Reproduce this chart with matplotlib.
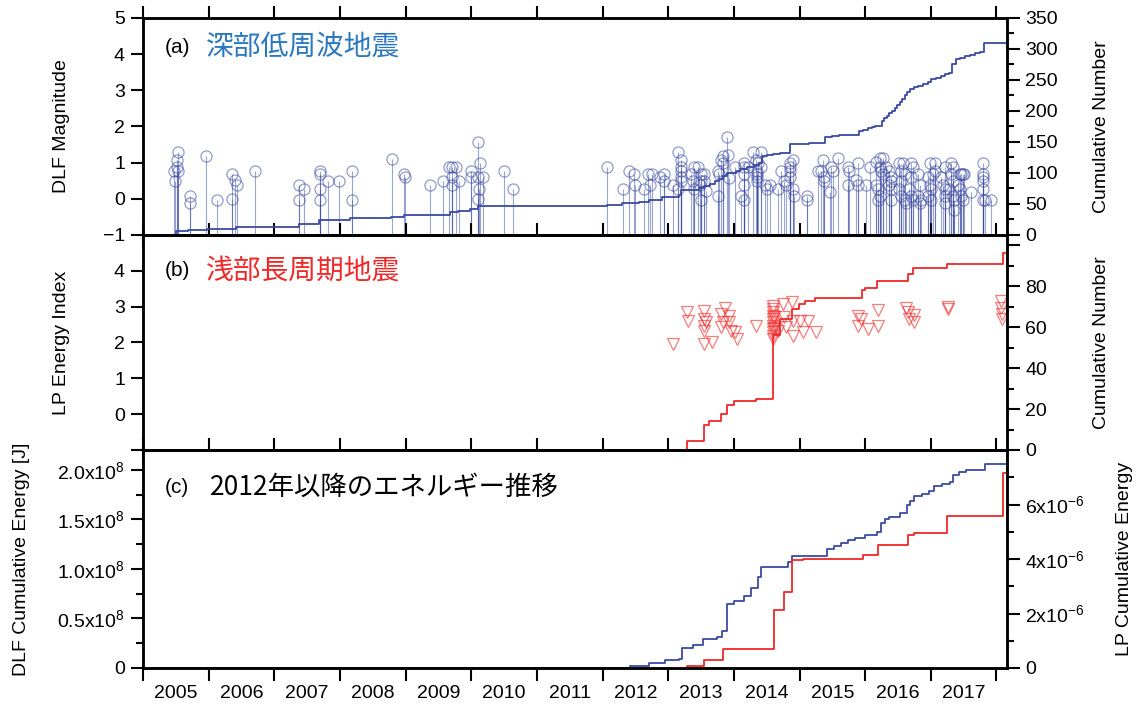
import numpy as np
import matplotlib
matplotlib.use("Agg")
import matplotlib.pyplot as plt

plt.rcParams['font.family'] = ['Liberation Sans', 'Noto Sans CJK JP', 'DejaVu Sans']
plt.rcParams['mathtext.default'] = 'regular'

# =========================
# DATA
# =========================
# deep low-frequency (DLF) events: decimal year, magnitude
dlf_year = [
    2005.53, 2005.52, 2005.52, 2005.47, 2005.53, 2005.49, 2005.71, 2005.71, 2005.96, 2006.13,
    2006.35, 2006.35, 2006.40, 2006.43, 2006.70, 2007.37, 2007.37, 2007.45, 2007.69, 2007.69,
    2007.69, 2007.69, 2007.82, 2007.98, 2008.18, 2008.18, 2008.79, 2008.98, 2008.99, 2009.37,
    2009.57, 2009.66, 2009.71, 2009.76, 2009.70, 2009.71, 2009.81, 2009.99, 2009.99, 2010.11,
    2010.14, 2010.11, 2010.18, 2010.12, 2010.11, 2010.50, 2010.64,
    2012.07, 2012.31, 2012.41, 2012.48, 2012.50, 2012.63, 2012.69, 2012.75, 2012.72, 2012.87,
    2012.93, 2012.93, 2013.07, 2013.15, 2013.20, 2013.20, 2013.20, 2013.20, 2013.20, 2013.15,
    2013.35, 2013.40, 2013.45, 2013.38, 2013.40, 2013.50, 2013.55, 2013.50, 2013.55, 2013.48,
    2013.58, 2013.50, 2013.76, 2013.78, 2013.76, 2013.80, 2013.83, 2013.83, 2013.90, 2013.91,
    2013.93, 2014.01, 2014.16, 2014.16, 2014.21, 2014.16, 2014.11, 2014.16, 2014.16, 2014.29,
    2014.42, 2014.34, 2014.37, 2014.35, 2014.35, 2014.35, 2014.35, 2014.42, 2014.47, 2014.55,
    2014.50, 2014.67, 2014.72, 2014.77, 2014.80, 2014.85, 2014.85, 2014.85, 2014.85, 2014.90,
    2014.90, 2014.92, 2015.12, 2015.12, 2015.28, 2015.33, 2015.36, 2015.37, 2015.38, 2015.48,
    2015.58, 2015.46, 2015.51, 2015.74, 2015.76, 2015.74, 2015.86, 2015.89, 2015.89, 2016.01,
    2016.07, 2016.22, 2016.27, 2016.17, 2016.22, 2016.24, 2016.27, 2016.17, 2016.19, 2016.22,
    2016.19, 2016.32, 2016.37, 2016.40, 2016.40, 2016.37, 2016.40, 2016.40, 2016.52, 2016.57,
    2016.55, 2016.60, 2016.55, 2016.52, 2016.55, 2016.60, 2016.62, 2016.70, 2016.73, 2016.70,
    2016.67, 2016.70, 2016.73, 2016.80, 2016.83, 2016.80, 2016.85, 2016.83, 2016.98, 2017.06,
    2016.95, 2016.98, 2017.00, 2017.00, 2016.95, 2017.03, 2017.06, 2017.16, 2017.21, 2017.18,
    2017.21, 2017.21, 2017.21, 2017.31, 2017.33, 2017.31, 2017.33, 2017.28, 2017.33, 2017.36,
    2017.36, 2017.44, 2017.46, 2017.49, 2017.51, 2017.41, 2017.44, 2017.46, 2017.49, 2017.61,
    2017.79, 2017.79, 2017.79, 2017.79, 2017.79, 2017.79, 2017.82, 2017.92,
]
dlf_mag = [
    1.29, 1.08, 0.89, 0.78, 0.78, 0.49, 0.08, -0.12, 1.19, -0.03,
    0.68, -0.01, 0.51, 0.39, 0.78, 0.38, -0.02, 0.28, 0.78, 0.68,
    0.28, -0.02, 0.49, 0.49, 0.78, -0.02, 1.09, 0.70, 0.60, 0.39,
    0.49, 0.89, 0.89, 0.89, 0.60, 0.39, 0.49, 0.78, 0.60, 1.58,
    0.99, 0.60, 0.60, 0.28, -0.01, 0.78, 0.28,
    0.89, 0.28, 0.78, 0.68, 0.39, 0.28, 0.69, 0.69, 0.39, 0.60,
    0.69, 0.49, 0.38, 1.29, 1.08, 0.89, 0.78, 0.60, 0.49, 0.28,
    0.69, 0.89, 0.89, 0.49, 0.28, 0.69, 0.69, 0.49, 0.49, 0.38,
    0.23, -0.03, 0.78, 0.69, 0.08, 1.08, 0.99, 1.19, 1.70, 1.22,
    0.57, 0.89, 0.99, 0.89, 0.89, 0.69, 0.08, -0.03, 0.39, 1.29,
    1.29, 1.08, 0.99, 0.78, 0.69, 0.60, 0.49, 0.89, 0.39, 0.39,
    0.28, 0.28, 0.78, 0.49, 0.39, 0.99, 0.89, 0.78, 0.60, 1.08,
    0.28, 0.08, 0.08, -0.03, 0.78, 0.78, 1.08, 0.60, 0.49, 0.89,
    1.12, 0.20, 0.78, 0.89, 0.78, 0.39, 0.52, 0.99, 0.39, 0.39,
    0.89, 1.12, 1.12, 1.03, 0.89, 0.78, 0.69, 0.39, 0.28, 0.08,
    -0.03, 0.89, 0.78, 0.60, 0.49, 0.39, 0.28, -0.03, 0.99, 0.99,
    0.78, 0.69, 0.49, 0.28, 0.08, -0.03, -0.12, 0.99, 0.89, 0.60,
    0.28, 0.08, -0.03, 0.69, 0.39, 0.08, -0.03, -0.12, 0.99, 0.99,
    0.60, 0.39, 0.28, -0.03, 0.08, 0.69, 0.78, 0.60, 0.89, 0.39,
    0.28, 0.08, -0.12, 0.99, 0.89, 0.69, 0.49, 0.28, 0.08, -0.03,
    -0.30, 0.69, 0.69, 0.69, 0.69, 0.39, 0.28, 0.08, -0.03, 0.20,
    0.99, 0.69, 0.60, 0.49, 0.28, -0.03, -0.03, -0.03,
]

# DLF cumulative number (step knots)
dlf_cum_year = [2005.0, 2005.51, 2005.69, 2005.97, 2006.41, 2007.37, 2007.68, 2008.16, 2008.78,
                2008.98, 2009.68, 2009.80, 2009.98, 2010.11, 2012.07, 2012.29, 2012.55, 2012.71,
                2012.91, 2013.16, 2013.20, 2013.47, 2013.55, 2013.63, 2013.72, 2013.78, 2013.84,
                2013.90, 2014.03, 2014.10, 2014.20, 2014.30, 2014.38, 2014.43, 2014.50, 2014.60,
                2014.71, 2014.86, 2015.00, 2015.15, 2015.29, 2015.39, 2015.50, 2015.60, 2015.70,
                2015.90, 2015.97, 2016.05, 2016.10, 2016.15, 2016.25, 2016.29, 2016.33, 2016.37,
                2016.41, 2016.45, 2016.49, 2016.53, 2016.56, 2016.60, 2016.64, 2016.68, 2016.74,
                2016.81, 2016.88, 2016.96, 2017.01, 2017.08, 2017.15, 2017.21, 2017.27, 2017.32,
                2017.39, 2017.45, 2017.52, 2017.60, 2017.68, 2017.75, 2017.81, 2018.16]
dlf_cum_num = [0, 6.5, 8, 10, 13.5, 17, 24, 27, 29,
               32, 37, 39.5, 41.5, 47.5, 49, 51, 54, 57,
               62, 65, 72, 76, 79, 83, 86.5, 90, 95,
               100, 103, 106, 109, 113, 116, 127, 129, 131,
               132.5, 146, 147, 148, 149, 158, 159.5, 161, 162,
               168, 170, 172, 174, 176, 184, 188, 192, 196,
               200, 205, 210, 214, 219, 225, 230, 235, 238,
               241, 243, 246, 251.5, 254, 257, 259, 262, 276,
               284, 286, 289, 291, 293, 295, 309, 309]

# shallow long-period (LP) events: decimal year, energy index
lp_year = [
    2013.07, 2013.28, 2013.30, 2013.55, 2013.55, 2013.58, 2013.55, 2013.55, 2013.55, 2013.66,
    2013.86, 2013.81, 2013.93, 2013.83, 2013.81, 2013.93, 2013.96, 2014.01, 2014.04, 2014.34,
    2014.59, 2014.59, 2014.59, 2014.59, 2014.59, 2014.59, 2014.59, 2014.59, 2014.59, 2014.59,
    2014.59, 2014.61, 2014.61, 2014.75, 2014.89, 2014.67, 2014.77, 2014.90, 2015.00, 2015.13,
    2015.05, 2015.25, 2014.90, 2014.80, 2015.89, 2015.94, 2015.89, 2016.04, 2016.19, 2016.19,
    2016.62, 2016.65, 2016.75, 2016.67, 2016.75, 2017.26, 2017.26, 2018.07, 2018.07, 2018.09,
    2018.09,
]
lp_index = [
    1.96, 2.84, 2.61, 2.88, 2.65, 2.56, 2.47, 2.33, 1.96, 2.01,
    2.97, 2.79, 2.74, 2.56, 2.42, 2.56, 2.33, 2.28, 2.10, 2.47,
    3.02, 2.93, 2.84, 2.74, 2.65, 2.56, 2.47, 2.38, 2.29, 2.19,
    2.10, 2.70, 2.40, 3.07, 3.13, 2.33, 2.70, 2.61, 2.61, 2.61,
    2.28, 2.28, 2.19, 2.42, 2.74, 2.65, 2.45, 2.39, 2.47, 2.91,
    2.97, 2.84, 2.76, 2.65, 2.56, 3.00, 2.93, 3.16, 2.97, 2.79,
    2.65,
]

# LP cumulative number (step knots)
lp_cum_year = [2013.04, 2013.28, 2013.54, 2013.62, 2013.80, 2013.90, 2014.00, 2014.33, 2014.59,
               2014.71, 2014.89, 2014.99, 2015.09, 2015.24, 2015.95, 2016.00, 2016.18, 2016.65,
               2016.73, 2017.25, 2018.10, 2018.16]
lp_cum_num = [0, 4.5, 12, 14, 17.5, 22, 24, 25, 56,
              64, 69, 71.5, 73, 74, 78, 79, 82.5, 86,
              89, 91, 96, 96]

# cumulative energy (step knots)
dlf_e_year = [2005.0, 2012.05, 2012.42, 2012.71, 2012.95, 2013.16, 2013.21, 2013.37, 2013.53,
              2013.74, 2013.82, 2013.89, 2014.00, 2014.16, 2014.26, 2014.37, 2014.42, 2014.82,
              2014.89, 2015.42, 2015.53, 2015.63, 2015.74, 2015.84, 2016.00, 2016.18, 2016.24,
              2016.30, 2016.37, 2016.53, 2016.63, 2016.68, 2016.74, 2016.86, 2016.97, 2017.05,
              2017.17, 2017.29, 2017.34, 2017.43, 2017.53, 2017.82, 2018.16]
dlf_e_val = [0, 0, 0.017e8, 0.05e8, 0.078e8, 0.092e8, 0.204e8, 0.228e8, 0.289e8,
             0.316e8, 0.374e8, 0.645e8, 0.68e8, 0.73e8, 0.805e8, 0.917e8, 1.02e8, 1.07e8,
             1.13e8, 1.205e8, 1.235e8, 1.263e8, 1.29e8, 1.314e8, 1.341e8, 1.375e8, 1.46e8,
             1.50e8, 1.528e8, 1.562e8, 1.647e8, 1.69e8, 1.732e8, 1.76e8, 1.783e8, 1.834e8,
             1.855e8, 1.878e8, 1.946e8, 1.975e8, 2.003e8, 2.061e8, 2.061e8]

lp_e_year = [2013.05, 2013.29, 2013.55, 2013.84, 2014.61, 2014.76, 2014.89, 2015.05, 2015.97,
             2016.20, 2016.65, 2016.74, 2017.25, 2018.10, 2018.16]
lp_e_val = [0, 0.06e-6, 0.31e-6, 0.70e-6, 2.14e-6, 2.80e-6, 3.95e-6, 4.01e-6, 4.16e-6,
            4.53e-6, 4.88e-6, 4.96e-6, 5.58e-6, 7.16e-6, 7.16e-6]

years = list(range(2005, 2018))

# =========================
# STYLE
# =========================
blue = "#3b4aa3"
red = "#f02828"
tick_fs = 14
lab_fs = 14

fig = plt.figure(figsize=(11.42, 7.2), dpi=100)
L, W = 143 / 1142, 864 / 1142
ax_a = fig.add_axes([L, 1 - 235 / 720, W, 217 / 720])
ax_b = fig.add_axes([L, 1 - 450 / 720, W, 215 / 720], sharex=ax_a)
ax_c = fig.add_axes([L, 1 - 668 / 720, W, 218 / 720], sharex=ax_a)


def style_axis(ax):
    for s in ax.spines.values():
        s.set_linewidth(1.8)
    ax.tick_params(axis="both", which="both", direction="out", width=1.5,
                   labelsize=tick_fs, pad=4)
    ax.tick_params(axis="both", which="major", length=9)
    ax.tick_params(axis="both", which="minor", length=5)


for ax in (ax_a, ax_b, ax_c):
    ax.set_xlim(2005, 2018.16)
    ax.set_xticks(years + [2018])
    ax.set_xticklabels([])
    ax.set_xticks([y + 0.5 for y in years], minor=True)
    ax.tick_params(axis="x", which="both", top=True, bottom=True)
    style_axis(ax)
    ax.tick_params(axis="x", which="minor", length=0)
    ax.set_xticklabels([], minor=True)

ax_c.set_xticks([y + 0.5 for y in years], [str(y) for y in years], minor=True)
ax_c.tick_params(axis="x", which="minor", pad=12)

# =========================
# (a) DLF
# =========================
ax_a.vlines(dlf_year, -1, dlf_mag, color=blue, lw=0.8, alpha=0.5)
ax_a.plot(dlf_year, dlf_mag, "o", ms=8, mfc="none", mec=blue, mew=0.9, alpha=0.55)
ax_a.set_ylim(-1, 5)
ax_a.set_yticks(range(-1, 6))
ax_a.set_ylabel("DLF Magnitude", fontsize=lab_fs)
ax_a.yaxis.set_label_coords(-0.084, 0.5)

ax_a2 = ax_a.twinx()
ax_a2.step(dlf_cum_year, dlf_cum_num, where="post", color=blue, lw=1.3)
ax_a2.set_ylim(0, 350)
ax_a2.set_yticks(range(0, 351, 50))
ax_a2.set_yticks(range(25, 350, 50), minor=True)
style_axis(ax_a2)
ax_a2.set_ylabel("Cumulative Number", fontsize=lab_fs)
ax_a2.yaxis.set_label_coords(1.10, 0.5)

ax_a.text(0.025, 0.862, "(a)", transform=ax_a.transAxes, fontsize=15, va="center")
ax_a.text(0.073, 0.862, "深部低周波地震", transform=ax_a.transAxes, fontsize=20,
          va="center", color="#2a78c0", family=["Noto Sans CJK JP"])

# =========================
# (b) LP
# =========================
ax_b.plot(lp_year, lp_index, "v", ms=9, mfc="none", mec=red, mew=0.9, alpha=0.6)
ax_b.set_ylim(-1, 5)
ax_b.set_yticks(range(-1, 5), ["", "0", "1", "2", "3", "4"])
ax_b.set_ylabel("LP Energy Index", fontsize=lab_fs)
ax_b.yaxis.set_label_coords(-0.084, 0.5)

ax_b2 = ax_b.twinx()
ax_b2.step(lp_cum_year, lp_cum_num, where="post", color=red, lw=1.3)
ax_b2.set_ylim(0, 105)
ax_b2.set_yticks(range(0, 101, 20), ["0", "20", "40", "60", "80", ""])
ax_b2.set_yticks(range(10, 101, 20), minor=True)
style_axis(ax_b2)
ax_b2.set_ylabel("Cumulative Number", fontsize=lab_fs)
ax_b2.yaxis.set_label_coords(1.10, 0.5)

ax_b.text(0.025, 0.835, "(b)", transform=ax_b.transAxes, fontsize=15, va="center")
ax_b.text(0.073, 0.835, "浅部長周期地震", transform=ax_b.transAxes, fontsize=20,
          va="center", color=red, family=["Noto Sans CJK JP"])

# =========================
# (c) cumulative energy
# =========================
ax_c.step(dlf_e_year, dlf_e_val, where="post", color=blue, lw=1.3)
ax_c.set_ylim(0, 2.2e8)
ax_c.set_yticks([0, 0.5e8, 1.0e8, 1.5e8, 2.0e8],
                ["0", "0.5x10$^{8}$", "1.0x10$^{8}$", "1.5x10$^{8}$", "2.0x10$^{8}$"])
ax_c.set_yticks([0.25e8, 0.75e8, 1.25e8, 1.75e8], minor=True)
ax_c.set_ylabel("DLF Cumulative Energy [J]", fontsize=lab_fs)
ax_c.yaxis.set_label_coords(-0.131, 0.5)

ax_c2 = ax_c.twinx()
ax_c2.step(lp_e_year, lp_e_val, where="post", color=red, lw=1.3)
ax_c2.set_ylim(0, 8e-6)
ax_c2.set_yticks([0, 2e-6, 4e-6, 6e-6],
                 ["0", "2x10$^{-6}$", "4x10$^{-6}$", "6x10$^{-6}$"])
ax_c2.set_yticks([1e-6, 3e-6, 5e-6, 7e-6], minor=True)
style_axis(ax_c2)
ax_c2.set_ylabel("LP Cumulative Energy", fontsize=lab_fs)
ax_c2.yaxis.set_label_coords(1.126, 0.5)

ax_c.text(0.025, 0.83, "(c)", transform=ax_c.transAxes, fontsize=15, va="center")
ax_c.text(0.077, 0.83, "2012年以降のエネルギー推移", transform=ax_c.transAxes, fontsize=19,
          va="center", color="black", family=["Noto Sans CJK JP"])

fig.savefig("out.png", dpi=100)
